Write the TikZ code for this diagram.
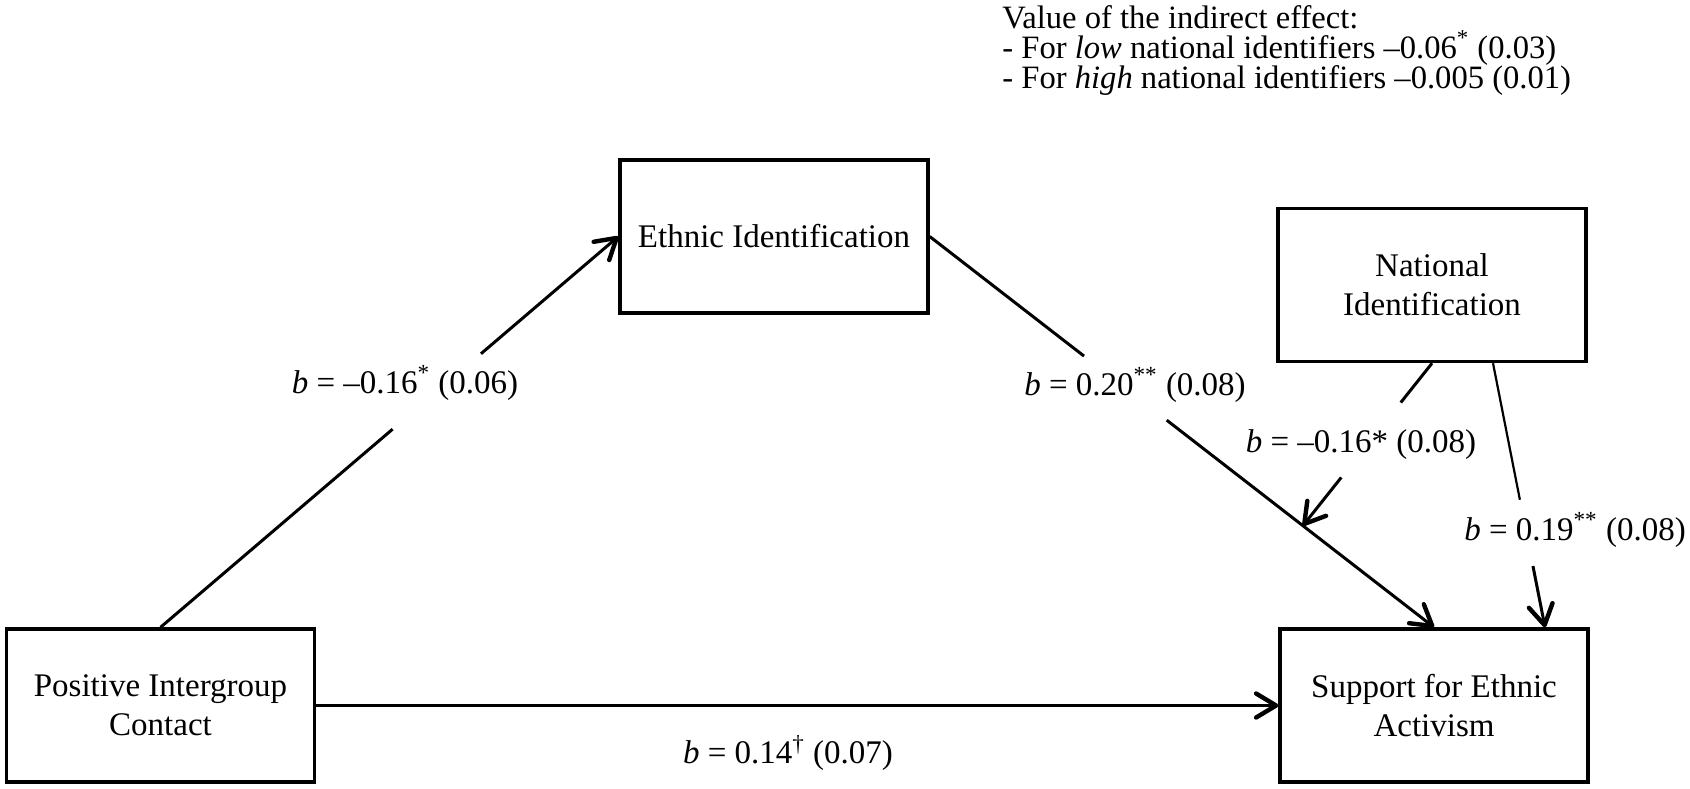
\documentclass[tikz,border=0pt]{standalone}
\usepackage{fontspec}
\setmainfont{Liberation Serif}
\usetikzlibrary{arrows.meta,calc}
\begin{document}
\begin{tikzpicture}[x=0.5pt,y=-0.5pt,
  box/.style={draw,line width=1.7pt,minimum width=154pt,minimum height=76.5pt,align=center,inner sep=0pt,font=\fontsize{16.5}{19.5}\selectfont},
  lbl/.style={font=\fontsize{16.5}{19.5}\selectfont,inner sep=0pt},
  conn/.style={line width=1.5pt},
  thinconn/.style={line width=1.1pt},
  arr/.style={-{Straight Barb[length=10pt,width=12pt,line width=2.2pt,round]}},
]
\useasboundingbox (0,0) rectangle (1690,788);
% boxes
\node[box] (eth) at (774,236.5) {Ethnic Identification};
\node[box] (nat) at (1432,285) {National\\Identification};
\node[box] (pos) at (160.5,705.5) {Positive Intergroup\\Contact};
\node[box] (sup) at (1434,705.5) {Support for Ethnic\\Activism};
% note
\node[anchor=north west,align=left,inner sep=0pt,font=\fontsize{16.3}{15}\selectfont] (note) at (1002,5)
  {Value of the indirect effect:\\- For \textit{low} national identifiers --0.06\textsuperscript{*} (0.03)\\- For \textit{high} national identifiers --0.005 (0.01)};
% labels
\node[lbl] (l1) at (405,383) {\textit{b} = --0.16\textsuperscript{*} (0.06)};
\node[lbl] (l2) at (1135,385) {\textit{b} = 0.20\textsuperscript{**} (0.08)};
\node[lbl] (l3) at (1361,445) {\textit{b} = --0.16* (0.08)};
\node[lbl] (l4) at (1575,530) {\textit{b} = 0.19\textsuperscript{**} (0.08)};
\node[lbl] (l5) at (788,753) {\textit{b} = 0.14\textsuperscript{†} (0.07)};
% connectors
\coordinate (m) at ($(eth.east)!0.74!(sup.north)$);
\coordinate (n4a) at ($(nat.south)+(61,0)$);
\coordinate (n4b) at ($(sup.north)+(111,0)$);
% 1: contact -> ethnic
\draw[conn] (pos.north) -- ($(pos.north)!0.507!(eth.west)$);
\draw[conn,arr] ($(pos.north)!0.70!(eth.west)$) -- (eth.west);
% 2: ethnic -> support
\draw[conn] (eth.east) -- ($(eth.east)!0.306!(sup.north)$);
\draw[conn,arr] ($(eth.east)!0.47!(sup.north)$) -- (sup.north);
% 3: national -> moderation point
\draw[conn] (nat.south) -- ($(nat.south)!0.242!(m)$);
\draw[conn,arr] ($(nat.south)!0.703!(m)$) -- (m);
% 4: national -> support
\draw[thinconn] (n4a) -- ($(n4a)!0.517!(n4b)$);
\draw[conn,arr] ($(n4a)!0.768!(n4b)$) -- (n4b);
% 5: contact -> support
\draw[conn,arr] (pos.east) -- (sup.west);
\end{tikzpicture}
\end{document}
